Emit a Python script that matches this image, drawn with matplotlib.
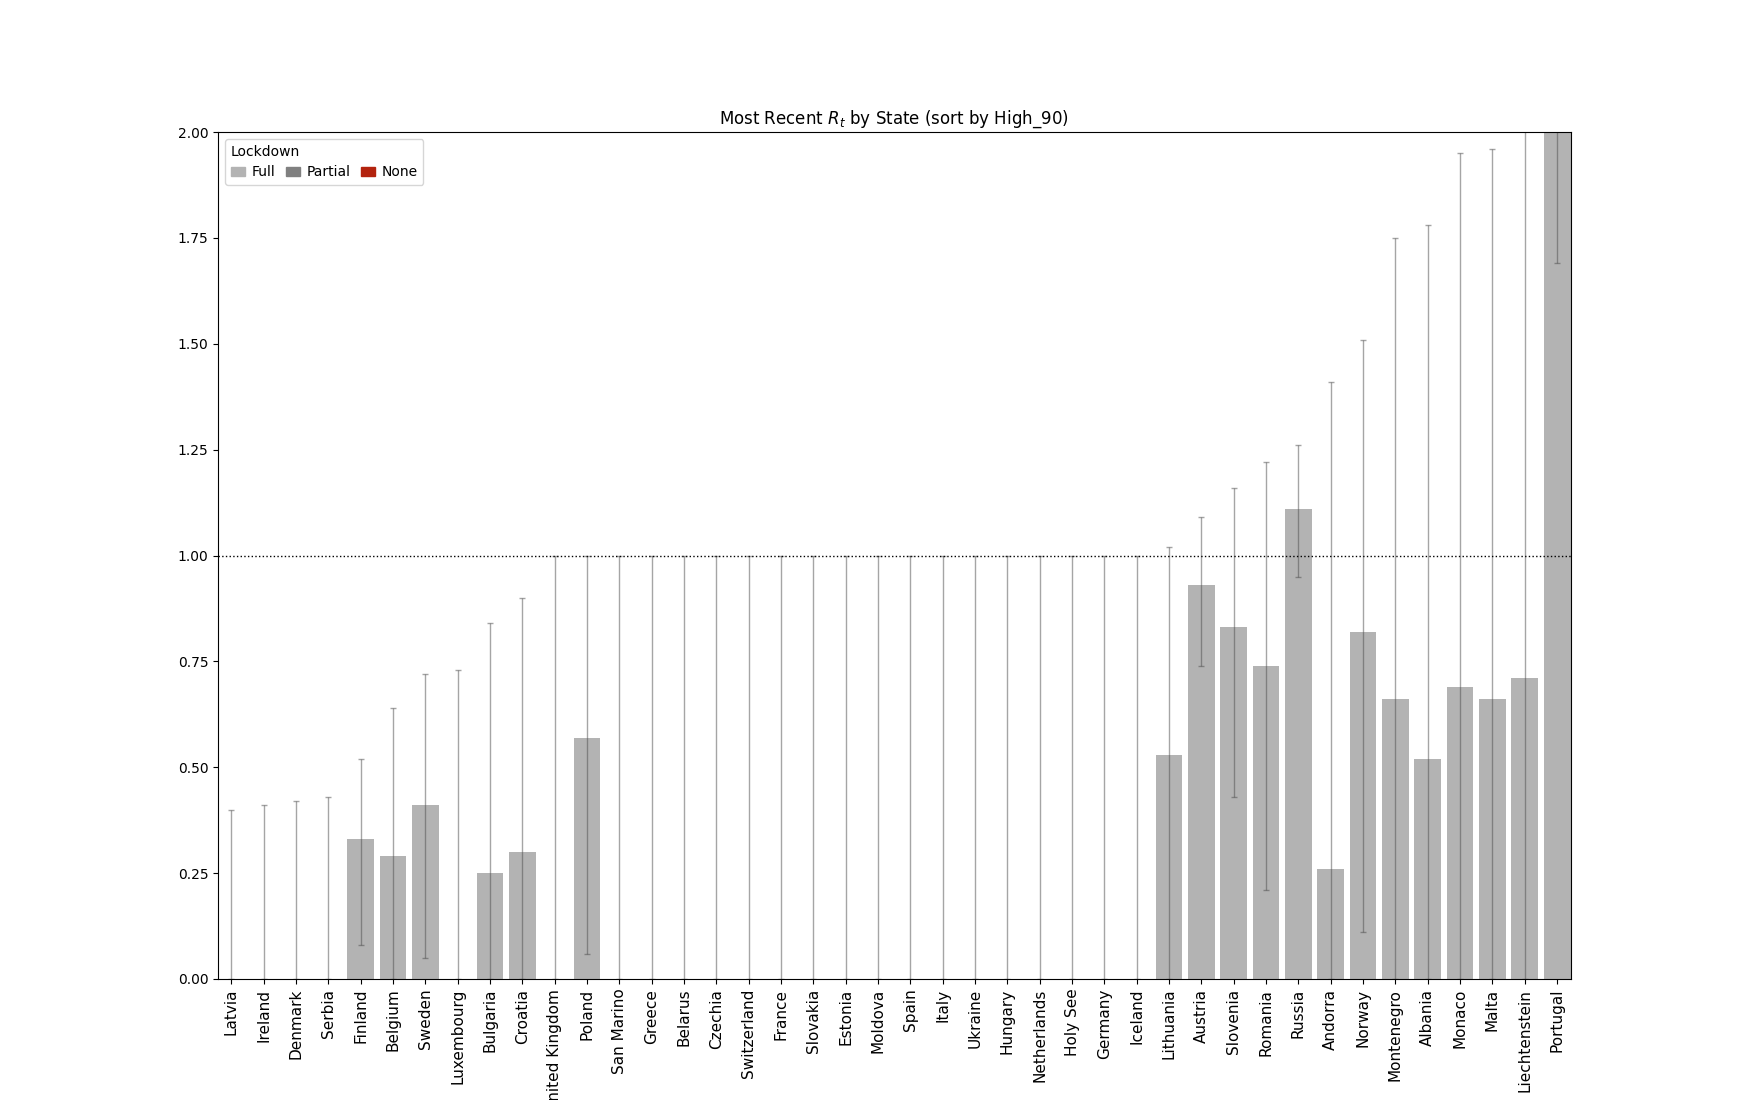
import numpy as np
import matplotlib
matplotlib.use('Agg')
import matplotlib.pyplot as plt
from matplotlib.patches import Patch

# colores como en el original
FULL_COLOR = [.7, .7, .7]
NONE_COLOR = [179/255, 35/255, 14/255]
PARTIAL_COLOR = [.5, .5, .5]
ERROR_BAR_COLOR = [.3, .3, .3]

# datos (ordenados por High_90)
states = ['Latvia', 'Ireland', 'Denmark', 'Serbia', 'Finland', 'Belgium', 'Sweden',
          'Luxembourg', 'Bulgaria', 'Croatia', 'United Kingdom', 'Poland', 'San Marino',
          'Greece', 'Belarus', 'Czechia', 'Switzerland', 'France', 'Slovakia', 'Estonia',
          'Moldova', 'Spain', 'Italy', 'Ukraine', 'Hungary', 'Netherlands', 'Holy See',
          'Germany', 'Iceland', 'Lithuania', 'Austria', 'Slovenia', 'Romania', 'Russia',
          'Andorra', 'Norway', 'Montenegro', 'Albania', 'Monaco', 'Malta',
          'Liechtenstein', 'Portugal']

ml = [0.0, 0.0, 0.0, 0.0, 0.33, 0.29, 0.41,
      0.0, 0.25, 0.30, 0.0, 0.57, 0.0,
      0.0, 0.0, 0.0, 0.0, 0.0, 0.0, 0.0,
      0.0, 0.0, 0.0, 0.0, 0.0, 0.0, 0.0,
      0.0, 0.0, 0.53, 0.93, 0.83, 0.74, 1.11,
      0.26, 0.82, 0.66, 0.52, 0.69, 0.66,
      0.71, 2.45]

low_90 = [0.0, 0.0, 0.0, 0.0, 0.08, 0.0, 0.05,
          0.0, 0.0, 0.0, 0.0, 0.06, 0.0,
          0.0, 0.0, 0.0, 0.0, 0.0, 0.0, 0.0,
          0.0, 0.0, 0.0, 0.0, 0.0, 0.0, 0.0,
          0.0, 0.0, 0.0, 0.74, 0.43, 0.21, 0.95,
          0.0, 0.11, 0.0, 0.0, 0.0, 0.0,
          0.0, 1.69]

high_90 = [0.40, 0.41, 0.42, 0.43, 0.52, 0.64, 0.72,
           0.73, 0.84, 0.90, 1.0, 1.0, 1.0,
           1.0, 1.0, 1.0, 1.0, 1.0, 1.0, 1.0,
           1.0, 1.0, 1.0, 1.0, 1.0, 1.0, 1.0,
           1.0, 1.0, 1.02, 1.09, 1.16, 1.22, 1.26,
           1.41, 1.51, 1.75, 1.78, 1.95, 1.96,
           2.25, 3.3]

no_lockdown = []
partial_lockdown = []

ml_arr = np.array(ml)
err = np.abs(np.vstack([np.array(low_90), np.array(high_90)]) - ml_arr)

fig, ax = plt.subplots(figsize=(17.45, 11), dpi=100)
ax.set_title('Most Recent $R_t$ by State (sort by High_90)')

x = np.arange(len(states))
bars = ax.bar(x, ml_arr, width=.825, color=FULL_COLOR, ecolor=ERROR_BAR_COLOR,
              capsize=2, error_kw={'alpha': .5, 'lw': 1}, yerr=err)

for bar, state_name in zip(bars, states):
    if state_name in no_lockdown:
        bar.set_color(NONE_COLOR)
    if state_name in partial_lockdown:
        bar.set_color(PARTIAL_COLOR)

ax.set_xticks(x)
ax.set_xticklabels(states, rotation=90, fontsize=11)
ax.margins(0)
ax.set_ylim(0, 2.)
ax.axhline(1.0, linestyle=':', color='k', lw=1)

leg = ax.legend(handles=[Patch(label='Full', color=FULL_COLOR),
                         Patch(label='Partial', color=PARTIAL_COLOR),
                         Patch(label='None', color=NONE_COLOR)],
                title='Lockdown', ncol=3, loc='upper left',
                columnspacing=.75, handletextpad=.5, handlelength=1)
leg._legend_box.align = "left"
fig.set_facecolor('w')

plt.savefig('out.png', dpi=100)
